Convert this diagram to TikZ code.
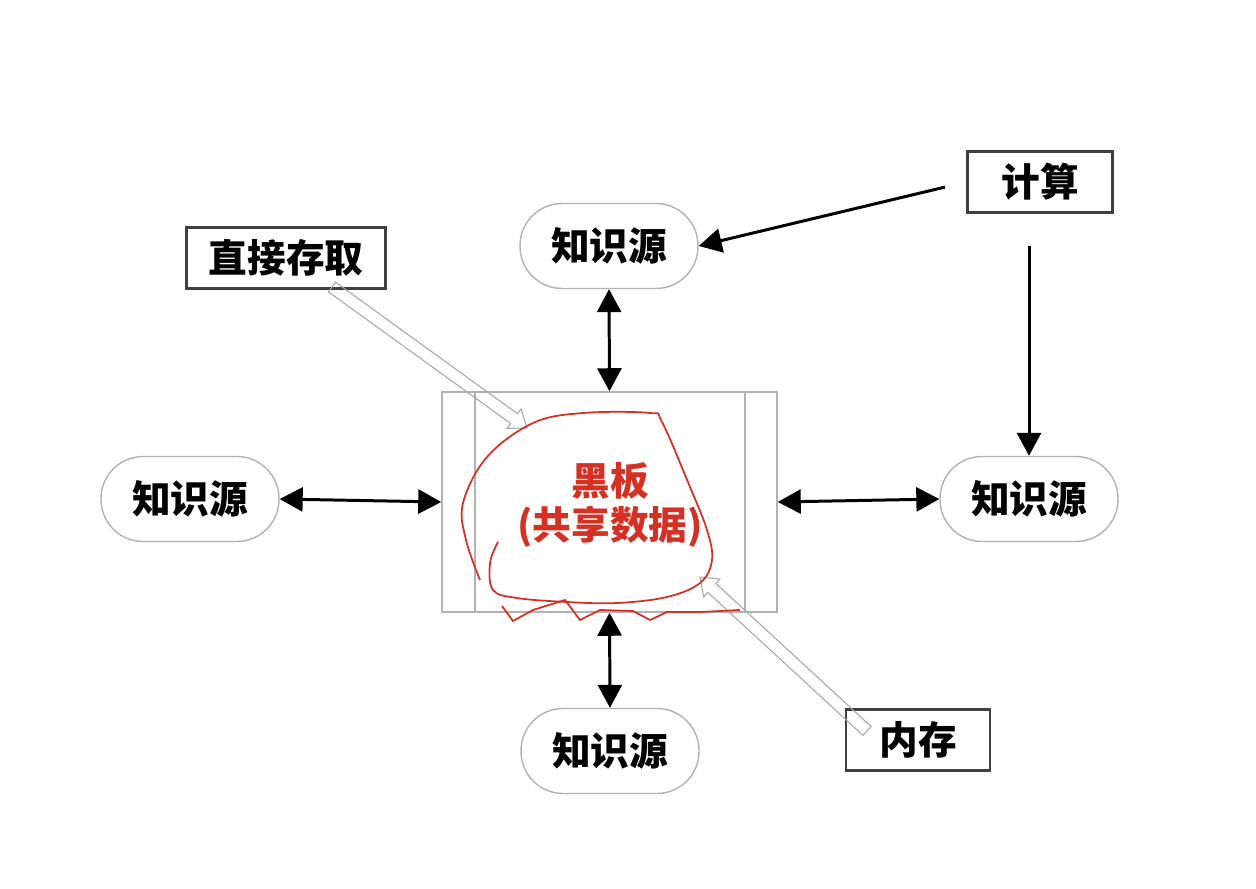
\documentclass[tikz,border=0pt]{standalone}
\usepackage{fontspec}
\newfontfamily\cjk{Noto Sans CJK SC}
\usetikzlibrary{arrows.meta,calc}
\definecolor{inkred}{RGB}{212,48,36}

\newcommand{\hollowarrow}[2]{%
  \coordinate (ha) at ($(#2)!0.32cm!(#1)$);
  \draw[hollow] ($(#1)!0.12cm!90:(#2)$) -- ($(ha)!0.12cm!90:(#2)$) -- ($(ha)!0.24cm!90:(#2)$) -- (#2)
    -- ($(ha)!0.24cm!-90:(#2)$) -- ($(ha)!0.12cm!-90:(#2)$) -- ($(#1)!0.12cm!-90:(#2)$) -- cycle;}

\begin{document}
\begin{tikzpicture}[x=0.02cm,y=-0.02cm,
        src/.style={draw=gray!60,line width=0.8pt,rounded corners=0.84cm,minimum width=3.56cm,minimum height=1.7cm,
            font=\cjk\bfseries\fontsize{22}{26}\selectfont},
        tag/.style={draw=black!75,line width=1.4pt,minimum height=1.22cm,font=\cjk\bfseries\fontsize{22}{26}\selectfont},
        link/.style={line width=1.7pt,{Triangle[length=4.6mm,width=4.8mm]}-{Triangle[length=4.6mm,width=4.8mm]}},
        feed/.style={line width=1.7pt,-{Triangle[length=4.6mm,width=4.8mm]}},
        hollow/.style={draw=gray!70,line width=0.6pt}]
    \useasboundingbox (0,0) rectangle (1256,888);
    % knowledge sources
    \node[src] (ksT) at (609,246) {知识源};
    \node[src] (ksL) at (190,499) {知识源};
    \node[src] (ksR) at (1029,499) {知识源};
    \node[src] (ksB) at (610,751) {知识源};
    % blackboard
    \node[draw=gray!60,line width=0.9pt,minimum width=6.7cm,minimum height=4.4cm] (bb) at (609.5,502) {};
    \draw[gray!60,line width=0.9pt] ($(bb.north west)+(34,0)$) -- ($(bb.south west)+(34,0)$);
    \draw[gray!60,line width=0.9pt] ($(bb.north east)+(-33,0)$) -- ($(bb.south east)+(-33,0)$);
    \node[text=inkred,align=center,font=\cjk\bfseries\fontsize{22}{25}\selectfont] (bbtext) at (610,505) {黑板\\(共享数据)};
    % labels
    \node[tag,minimum width=3.98cm] (acc) at (286,258) {直接存取};
    \node[tag,minimum width=2.9cm] (comp) at (1040,182) {计算};
    \node[tag,minimum width=2.88cm] (mem) at (918,740) {内存};
    % connectors
    \draw[link] (ksT.south) -- (bb.north);
    \draw[link] (bb.south) -- (ksB.north);
    \draw[link] (ksL.east) -- (bb.west);
    \draw[link] (bb.east) -- (ksR.west);
    \draw[feed,shorten <=0.44cm] (comp.west) -- (ksT.east);
    \draw[feed,shorten <=0.64cm] (comp.south -| ksR.north) -- (ksR.north);
    \coordinate (accout) at (332,287);
    \coordinate (accin) at (527,428);
    \coordinate (memout) at (867,731);
    \coordinate (memin) at (700,577);
    \hollowarrow{accout}{accin}
    \hollowarrow{memout}{memin}
    % red marks
    \draw[inkred,line width=1pt] plot[smooth,tension=0.6] coordinates {(480,580) (466,540) (463,503) (487,457) (533,423) (583,413)
        (650,413) (662,422) (690,487) (707,530) (712,560) (700,583) (667,597) (617,603) (567,602) (517,598) (493,590) (490,563) (498,542)};
    \draw[inkred,line width=1pt] (502,606) -- (513,621) -- (533,610) -- (565,600) -- (580,620) -- (600,610) -- (633,611)
        -- (650,620) -- (667,612) -- (700,612) -- (740,610);
\end{tikzpicture}
\end{document}
